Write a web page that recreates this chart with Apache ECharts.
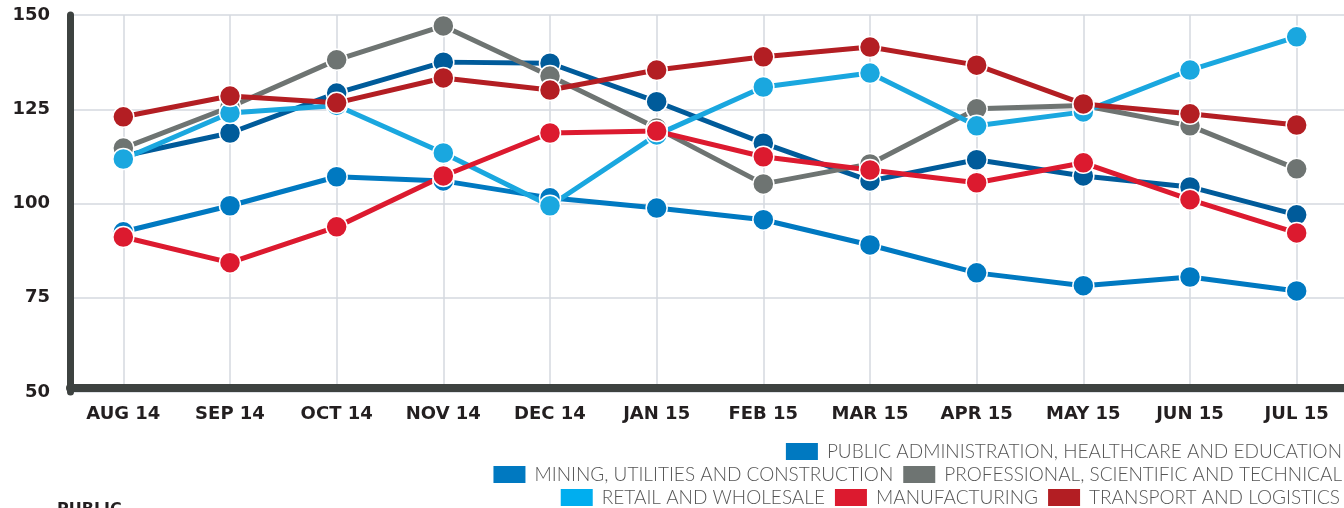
<!DOCTYPE html>
<html>
<head>
<meta charset="utf-8">
<script src="https://cdn.jsdelivr.net/npm/echarts@6/dist/echarts.min.js"></script>
<style>
  html, body { margin: 0; padding: 0; background: #fff; }
  #chart { width: 1344px; height: 508px; }
</style>
</head>
<body>
<div id="chart"></div>
<script>
const months = ['AUG 14', 'SEP 14', 'OCT 14', 'NOV 14', 'DEC 14', 'JAN 15',
  'FEB 15', 'MAR 15', 'APR 15', 'MAY 15', 'JUN 15', 'JUL 15']

const publicAdmin = [92.5, 99.4, 107.1, 106, 101.5, 98.8, 95.7, 89, 81.6, 78.2, 80.5, 76.8]
const mining = [112.6, 118.7, 129.3, 137.5, 137.2, 127, 116, 106, 111.6, 107.3, 104.4, 97]
const professional = [114.7, 125.6, 138.1, 147.1, 133.8, 120, 105.2, 110.5, 125.1, 126, 120.6, 109.2]
const retail = [111.8, 124, 126, 113.4, 99.4, 118.2, 130.9, 134.6, 120.6, 124.3, 135.4, 144.2]
const manufacturing = [91.1, 84.3, 93.8, 107.3, 118.7, 119.2, 112.4, 108.9, 105.5, 110.8, 101, 92.2]
const transport = [123, 128.5, 126.7, 133.3, 130.1, 135.4, 138.9, 141.5, 136.7, 126.4, 123.8, 120.8]

const yTicks = [50, 75, 100, 125, 150]

const names = {
  pub: 'PUBLIC ADMINISTRATION, HEALTHCARE AND EDUCATION',
  min: 'MINING, UTILITIES AND CONSTRUCTION',
  pro: 'PROFESSIONAL, SCIENTIFIC AND TECHNICAL',
  ret: 'RETAIL AND WHOLESALE',
  man: 'MANUFACTURING',
  tra: 'TRANSPORT AND LOGISTICS'
}

const chart = echarts.init(document.getElementById('chart'))

function line(name, data, color) {
  return {
    name: name,
    type: 'line',
    data: data,
    symbol: 'circle',
    symbolSize: 21,
    lineStyle: { width: 5, color: color },
    itemStyle: { color: color, borderColor: '#fff', borderWidth: 1.5 },
    emphasis: { disabled: true },
    animation: false
  }
}

// legend swatches use the flat print colours, not the marker colours
function legendItem(name, color) {
  return { name: name, itemStyle: { color: color, borderWidth: 0 } }
}

const legendBase = {
  icon: 'rect',
  itemWidth: 32,
  itemHeight: 17,
  itemGap: 10,
  padding: 0,
  textStyle: {
    fontFamily: 'Lato', fontWeight: 300, fontSize: 19, color: '#555',
    padding: [0, 0, 0, 4]
  }
}

const option = {
  grid: { left: 70, right: -6, top: 15, bottom: 116, outerBoundsMode: 'none' },
  xAxis: {
    type: 'category',
    data: months,
    offset: -4,
    axisLine: { lineStyle: { color: '#3d4240', width: 8 } },
    axisTick: { show: false },
    axisLabel: { margin: 17, fontFamily: 'DejaVu Sans', fontWeight: 'bold', fontSize: 18, color: '#231f20' },
    splitLine: { show: true, alignWithLabel: true, lineStyle: { color: '#d5d9df', width: 1.5 } }
  },
  yAxis: {
    type: 'value',
    min: yTicks[0],
    max: yTicks[yTicks.length - 1],
    interval: 25,
    axisLine: { show: true, lineStyle: { color: '#3d4240', width: 7 } },
    axisTick: { show: false },
    axisLabel: { margin: 20, fontFamily: 'DejaVu Sans', fontWeight: 'bold', fontSize: 18, color: '#231f20' },
    splitLine: { lineStyle: { color: '#d5d9df', width: 1.5 } }
  },
  legend: [
    Object.assign({}, legendBase, { top: 442, right: 2,
      data: [legendItem(names.pub, '#0079c1')] }),
    Object.assign({}, legendBase, { top: 465, right: 2,
      data: [legendItem(names.min, '#0079c1'), legendItem(names.pro, '#6e7472')] }),
    Object.assign({}, legendBase, { top: 488, right: 4,
      data: [legendItem(names.ret, '#00aeef'), legendItem(names.man, '#dc1a2f'), legendItem(names.tra, '#b31e23')] })
  ],
  graphic: [{
    type: 'text',
    left: 57,
    top: 502,
    style: { text: 'PUBLIC', fontFamily: 'DejaVu Sans', fontWeight: 'bold', fontSize: 16, fill: '#231f20' }
  }],
  series: [
    line(names.pub, publicAdmin, '#0079c1'),
    line(names.min, mining, '#005b9a'),
    line(names.pro, professional, '#6e7472'),
    line(names.ret, retail, '#1aa7df'),
    line(names.man, manufacturing, '#dc1a2f'),
    line(names.tra, transport, '#b31e23')
  ]
}

chart.setOption(option)
</script>
</body>
</html>
